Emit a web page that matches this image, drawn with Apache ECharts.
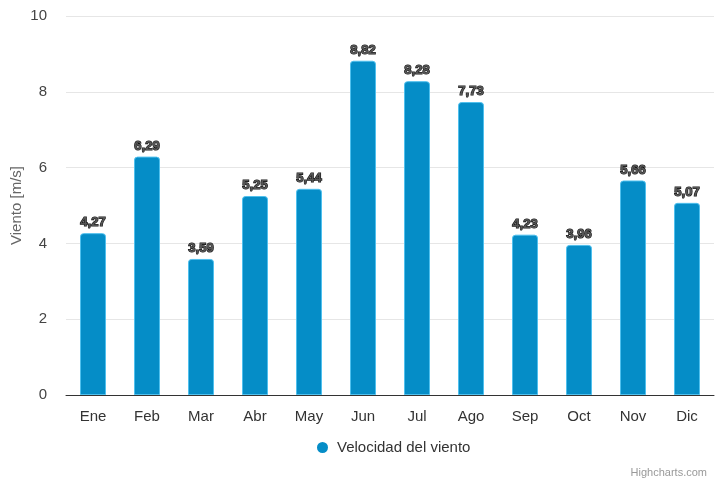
<!DOCTYPE html>
<html>
<head>
<meta charset="utf-8">
<script src="https://cdn.jsdelivr.net/npm/echarts@6/dist/echarts.min.js"></script>
<style>
  html, body { margin: 0; padding: 0; background: #fff; }
  #chart { width: 715px; height: 484px; }
</style>
</head>
<body>
<div id="chart"></div>
<script>
const months = ["Ene", "Feb", "Mar", "Abr", "May", "Jun", "Jul", "Ago", "Sep", "Oct", "Nov", "Dic"];
const windSpeed = [4.27, 6.29, 3.59, 5.25, 5.44, 8.82, 8.28, 7.73, 4.23, 3.96, 5.66, 5.07];
const seriesName = "Velocidad del viento";
const yTitle = "Viento [m/s]";

const barColor = "#058DC7";

const chart = echarts.init(document.getElementById("chart"));
chart.setOption({
  animation: false,
  textStyle: { fontFamily: "'Liberation Sans', Arial, sans-serif" },
  grid: { left: 66, right: 1, top: 16, bottom: 89, containLabel: false, outerBoundsMode: "none" },
  legend: {
    bottom: 24,
    left: 312,
    icon: "circle",
    itemWidth: 11,
    itemHeight: 11,
    itemGap: 8,
    itemStyle: { borderWidth: 0 },
    textStyle: { color: "#333", fontSize: 15, padding: [0, 0, 0, 4] },
    data: [seriesName],
  },
  graphic: [
    {
      type: "text",
      right: 8,
      bottom: 6,
      style: { text: "Highcharts.com", fill: "#999", fontSize: 11, fontFamily: "'Liberation Sans', sans-serif" },
    },
  ],
  xAxis: {
    type: "category",
    data: months,
    axisTick: { show: false },
    axisLine: { lineStyle: { color: "#333", width: 1 } },
    axisLabel: { color: "#333", fontSize: 15, margin: 14 },
  },
  yAxis: {
    type: "value",
    min: 0,
    max: 10,
    interval: 2,
    name: yTitle,
    nameLocation: "middle",
    nameGap: 42,
    nameMoveOverlap: false,
    nameTextStyle: { color: "#666", fontSize: 15 },
    axisLabel: { color: "#444", fontSize: 15, margin: 19 },
    splitLine: { lineStyle: { color: "#e6e6e6" } },
  },
  series: [
    {
      name: seriesName,
      type: "bar",
      data: windSpeed,
      barWidth: 26,
      itemStyle: {
        color: barColor,
        borderColor: "#4fc0ee",
        borderWidth: 1,
        borderRadius: [3, 3, 0, 0],
      },
      label: {
        show: true,
        position: "top",
        distance: 4,
        color: "#555",
        fontSize: 13,
        fontWeight: "bold",
        textBorderColor: "#111",
        textBorderWidth: 1.2,
        formatter: (p) => p.value.toFixed(2).replace(".", ","),
      },
    },
  ],
});
</script>
</body>
</html>
